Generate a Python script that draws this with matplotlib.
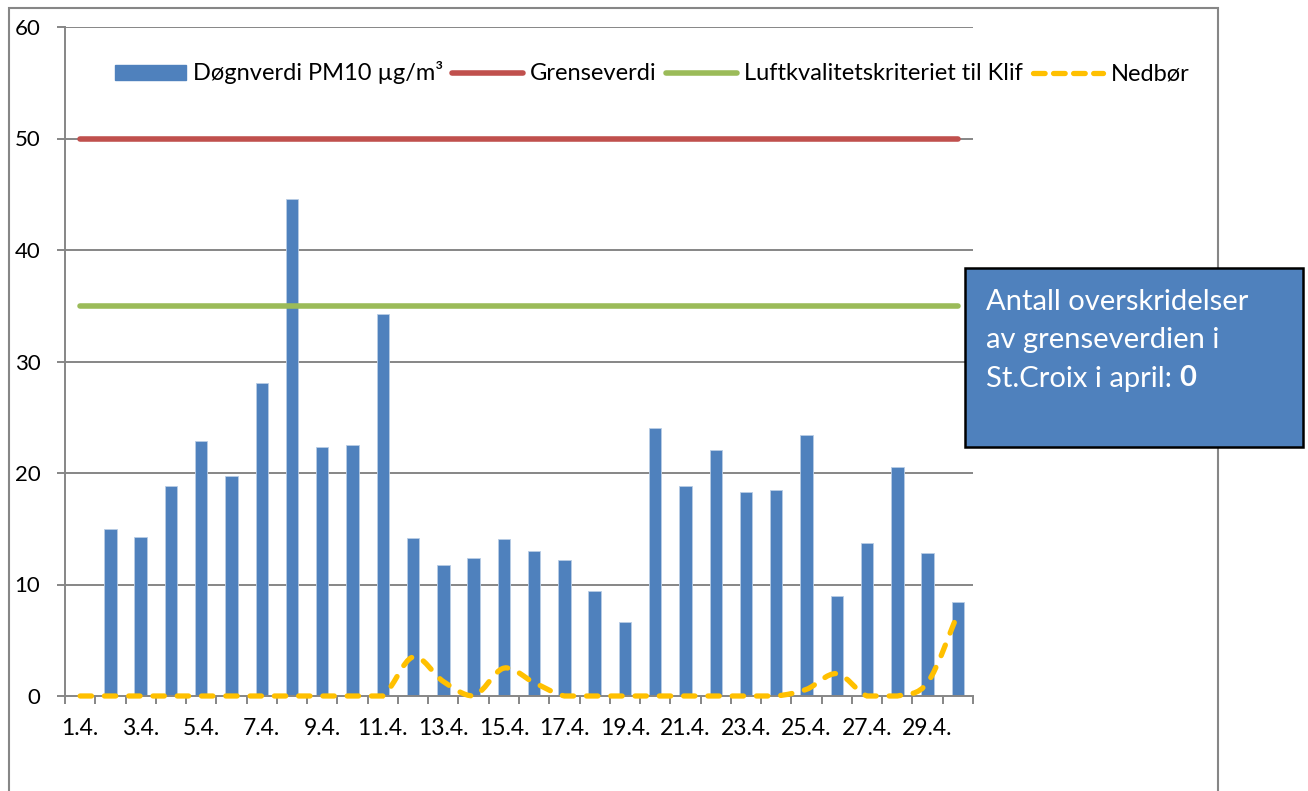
import matplotlib
matplotlib.use("Agg")
import matplotlib.pyplot as plt
from matplotlib.path import Path
from matplotlib.patches import PathPatch, Rectangle, Patch
from matplotlib.lines import Line2D

plt.rcParams['font.family'] = ['Lato', 'DejaVu Sans']

days = list(range(1, 31))
labels = [f"{d}.4." for d in days]
pm10 = [None, 14.95, 14.26, 18.87, 22.87, 19.73, 28.04, 44.6, 22.33, 22.55,
        34.3, 14.2, 11.78, 12.35, 14.12, 13.04, 12.23, 9.42, 6.67, 24.04,
        18.83, 22.1, 18.3, 18.5, 23.38, 8.97, 13.76, 20.54, 12.86, 8.47]
grenseverdi = [50] * 30
klif = [35] * 30
nedbor = [0, 0, 0, 0, 0, 0, 0, 0, 0, 0, 0, 3.5, 1.3, 0, 2.5, 1.2, 0, 0, 0, 0,
          0, 0, 0, 0, 0.6, 2.0, 0, 0, 1.2, 7.4]

W, H = 1308, 791
fig = plt.figure(figsize=(W / 100, H / 100), dpi=100)

def fx(px):
    return px / W

def fy(py):
    return 1 - py / H

# outer chart border
fig.patches.append(Rectangle((fx(9), fy(830)), fx(1218) - fx(9), fy(8) - fy(830),
                             transform=fig.transFigure, fill=False,
                             edgecolor='#868686', linewidth=1.5, zorder=0))

ax = fig.add_axes([fx(65), fy(696), fx(973) - fx(65), fy(27) - fy(696)])
ax.set_xlim(0.5, 30.5)
ax.set_ylim(0, 60)

grid_c = '#868686'
for y in range(10, 61, 10):
    ax.axhline(y, color=grid_c, linewidth=1.4, zorder=0.5)

bx = [d for d, v in zip(days, pm10) if v is not None]
bv = [v for v in pm10 if v is not None]
ax.bar(bx, bv, width=0.41, color='#4F81BD', edgecolor='#B9CDE5', linewidth=0.6, zorder=2)

LW = 4.0
ax.plot(days, grenseverdi, color='#C0504D', linewidth=LW, solid_capstyle='round', zorder=3)
ax.plot(days, klif, color='#9BBB59', linewidth=LW, solid_capstyle='round', zorder=3)

# smoothed (Excel-like) Bezier curve through the precipitation values
pts = list(zip(days, nedbor))
verts = [pts[0]]
codes = [Path.MOVETO]
n = len(pts)
for i in range(n - 1):
    p0 = pts[i - 1] if i > 0 else pts[i]
    p1 = pts[i]
    p2 = pts[i + 1]
    p3 = pts[i + 2] if i + 2 < n else pts[i + 1]
    c1 = (p1[0] + (p2[0] - p0[0]) / 6, max(0, p1[1] + (p2[1] - p0[1]) / 6))
    c2 = (p2[0] - (p3[0] - p1[0]) / 6, max(0, p2[1] - (p3[1] - p1[1]) / 6))
    verts += [c1, c2, p2]
    codes += [Path.CURVE4] * 3
DLW = 3.8
DASH = (0, (2.15, 2.45))
ax.add_patch(PathPatch(Path(verts, codes), fill=False, edgecolor='#FFC000',
                       linewidth=DLW, linestyle=DASH, capstyle='round',
                       zorder=4, clip_on=False))

for s in ['top', 'right']:
    ax.spines[s].set_visible(False)
for s in ['left', 'bottom']:
    ax.spines[s].set_color(grid_c)
    ax.spines[s].set_linewidth(1.4)

ax.set_yticks(range(0, 61, 10))
ax.set_xticks([d + 0.5 for d in range(0, 31)])
ax.set_xticklabels([])
ax.set_xticks(days[::2], minor=True)
ax.set_xticklabels(labels[::2], minor=True, fontsize=16.5)
ax.tick_params(axis='x', which='major', direction='out', length=5.8, width=1.4, color=grid_c)
ax.tick_params(axis='x', which='minor', length=0, pad=16)
ax.tick_params(axis='y', direction='out', length=5.8, width=1.4, color=grid_c,
               labelsize=16, pad=12)

handles = [Patch(facecolor='#4F81BD', edgecolor='#4F81BD'),
           Line2D([], [], color='#C0504D', linewidth=LW, solid_capstyle='round'),
           Line2D([], [], color='#9BBB59', linewidth=LW, solid_capstyle='round'),
           Line2D([], [], color='#FFC000', linewidth=DLW, linestyle=(0, (2.2, 1.6)),
                  dash_capstyle='round')]
names = ['Døgnverdi PM10 µg/m³', 'Grenseverdi', 'Luftkvalitetskriteriet til Klif', 'Nedbør']
fig.legend(handles, names, loc='center', bbox_to_anchor=(fx(652), fy(73)), ncol=4,
           frameon=False, fontsize=17, handlelength=3.0, handleheight=0.6,
           handletextpad=0.3, columnspacing=0.4)

# annotation box
fig.patches.append(Rectangle((fx(965), fy(447)), fx(1303) - fx(965), fy(268) - fy(447),
                             transform=fig.transFigure, facecolor='#4F81BD',
                             edgecolor='black', linewidth=1.8, zorder=5))
tx = fx(986)
FS = 21
fig.text(tx, fy(310), 'Antall overskridelser', color='white', fontsize=FS, va='baseline', zorder=6)
fig.text(tx, fy(348), 'av grenseverdien i', color='white', fontsize=FS, va='baseline', zorder=6)
t3 = fig.text(tx, fy(386.5), 'St.Croix i april: ', color='white', fontsize=FS, va='baseline', zorder=6)
fig.canvas.draw()
bb = t3.get_window_extent(renderer=fig.canvas.get_renderer())
fig.text(bb.x1 / W, fy(386.5), '0', color='white', fontsize=FS, fontweight='bold',
         va='baseline', zorder=6)

fig.savefig('out.png', dpi=100)
